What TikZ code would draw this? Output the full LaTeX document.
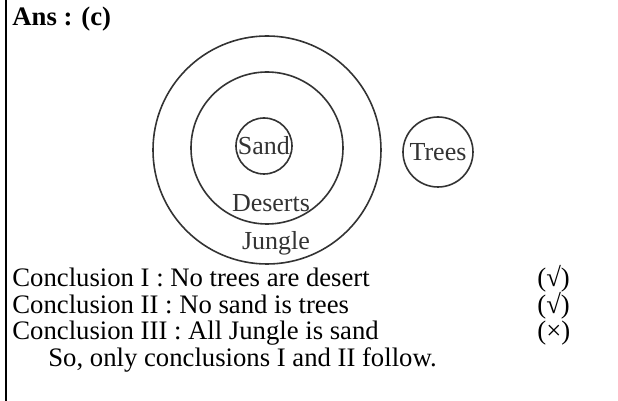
\documentclass[tikz,border=0pt]{standalone}
\usepackage{fontspec}
\setmainfont{Liberation Serif}
\usetikzlibrary{positioning}
\definecolor{inkgray}{HTML}{333333}
\tikzset{
  setring/.style={
    draw=inkgray,
    line width=0.8pt,
    circle,
    inner sep=0pt,
    outer sep=0pt,
    text=inkgray,
    font=\fontsize{13}{13}\selectfont
  },
  setlabel/.style={
    inner sep=0pt,
    text=inkgray,
    font=\fontsize{13}{13}\selectfont
  },
  textline/.style={
    anchor=base west,
    inner sep=0pt,
    font=\fontsize{13.35}{13.35}\selectfont
  },
  edgeline/.style={line width=1pt, draw=black}
}

\begin{document}
\begin{tikzpicture}[x=0.5pt, y=-0.5pt]
\useasboundingbox (0,0) rectangle (618,401);
% left rule
\coordinate (ruletop) at (6,0);
\coordinate (rulebot) at (6,401);
\draw[edgeline] (ruletop) -- (rulebot);

\node[textline, font=\fontsize{13.35}{13.35}\selectfont\bfseries] (ans) at (12,26) {Ans : (c)};

% sets
\node[setring, minimum size=114pt] (jungle) at (267,150) {};
\node[setring, minimum size=76pt] (deserts) at (267,148) {};
\node[setring, minimum size=28pt] (sand) at (264,146) {Sand};
\node[setring, minimum size=35pt] (trees) at (438,152) {Trees};
\node[setlabel] (desertslabel) at (271,203) {Deserts};
\node[setlabel] (junglelabel) at (276,243) {Jungle};

% conclusions
\node[textline] (con1) at (12,287) {Conclusion I : No trees are desert};
\node[textline] (con2) at (12,314) {Conclusion II : No sand is trees};
\node[textline] (con3) at (12,340) {Conclusion III : All Jungle is sand};
\node[textline] (summary) at (48,367) {So, only conclusions I and II follow.};
\node[textline] (tick1) at (537,287) {(√)};
\node[textline] (tick2) at (537,314) {(√)};
\node[textline] (cross3) at (537,340) {(×)};
\end{tikzpicture}
\end{document}
